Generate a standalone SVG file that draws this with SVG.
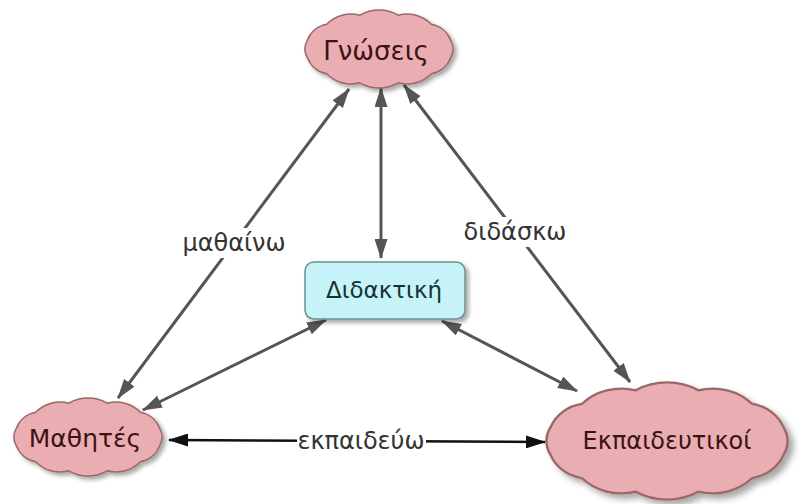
<svg xmlns="http://www.w3.org/2000/svg" width="799" height="504" viewBox="0 0 799 504">
<style>
.cloud{fill:#eaadb1;stroke:#9a6868;stroke-width:1.5;filter:url(#sh)}
.box{fill:#c6f3f7;stroke:#6f8f91;stroke-width:1.5;filter:url(#sh)}
.ct{font-family:"DejaVu Sans",sans-serif;fill:#3a1414;text-anchor:middle}
.bt{font-family:"DejaVu Sans",sans-serif;fill:#123434;text-anchor:middle;font-size:23px}
.lb{font-family:"DejaVu Sans",sans-serif;fill:#333;text-anchor:middle;font-size:24px}
.g{stroke:#555;stroke-width:3;fill:none;marker-start:url(#ag);marker-end:url(#ag)}
.k{stroke:#111;stroke-width:2.5;fill:none;marker-start:url(#ak);marker-end:url(#ak)}
.bg{fill:#fff}
</style>
<defs>
<filter id="sh" x="-20%" y="-20%" width="140%" height="150%">
<feDropShadow dx="3" dy="3" stdDeviation="2" flood-color="#000" flood-opacity="0.35"/>
</filter>
<marker id="ag" viewBox="0 0 20 13" refX="19" refY="6.5" markerUnits="userSpaceOnUse" markerWidth="20" markerHeight="13" orient="auto-start-reverse">
<path d="M0,0 L20,6.5 L0,13 z" fill="#555"/>
</marker>
<marker id="ak" viewBox="0 0 20 13" refX="19" refY="6.5" markerUnits="userSpaceOnUse" markerWidth="20" markerHeight="13" orient="auto-start-reverse">
<path d="M0,0 L20,6.5 L0,13 z" fill="#111"/>
</marker>
<path id="cl" d="M71.5,-9.1 A18,18 0 0 1 71.5,9.1 A25,25 0 0 1 52.3,24.7 A34,34 0 0 1 19.2,33.8 A38,38 0 0 1 -19.2,33.8 A34,34 0 0 1 -52.3,24.7 A25,25 0 0 1 -71.5,9.1 A18,18 0 0 1 -71.5,-9.1 A25,25 0 0 1 -52.3,-24.7 A34,34 0 0 1 -19.2,-33.8 A38,38 0 0 1 19.2,-33.8 A34,34 0 0 1 52.3,-24.7 A25,25 0 0 1 71.5,-9.1 Z"/>
</defs>
<rect width="799" height="504" fill="#fff"/>
<g id="connectors">
<line class="g" x1="118" y1="398" x2="349" y2="89"/>
<line class="g" x1="381" y1="88" x2="381" y2="258"/>
<line class="g" x1="404" y1="85" x2="630" y2="382"/>
<line class="g" x1="143" y1="410" x2="326" y2="320"/>
<line class="g" x1="442" y1="321" x2="577" y2="391"/>
<line class="k" x1="169" y1="440" x2="545" y2="442"/>
<rect class="bg" x="177" y="228" width="114" height="30"/>
<text class="lb" x="234" y="251">μαθαίνω</text>
<rect class="bg" x="458" y="217" width="114" height="30"/>
<text class="lb" x="515" y="240">διδάσκω</text>
<rect class="bg" x="297" y="426" width="129" height="30"/>
<text class="lb" x="361" y="449">εκπαιδεύω</text>
</g>
<g id="node-gnoseis">
<use href="#cl" class="cloud" transform="translate(379,49)"/>
<text class="ct" x="376" y="60" font-size="26">Γνώσεις</text>
</g>
<g id="node-didaktiki">
<rect class="box" x="305" y="262" width="160" height="57" rx="9"/>
<text class="bt" x="384" y="298">Διδακτική</text>
</g>
<g id="node-mathites">
<use href="#cl" class="cloud" transform="translate(88,437)"/>
<text class="ct" x="85" y="447" font-size="25">Μαθητές</text>
</g>
<g id="node-ekpaideutikoi">
<use href="#cl" class="cloud" transform="translate(667,441) scale(1.63,1.5)"/>
<text class="ct" x="667" y="449" font-size="24">Εκπαιδευτικοί</text>
</g>
</svg>
